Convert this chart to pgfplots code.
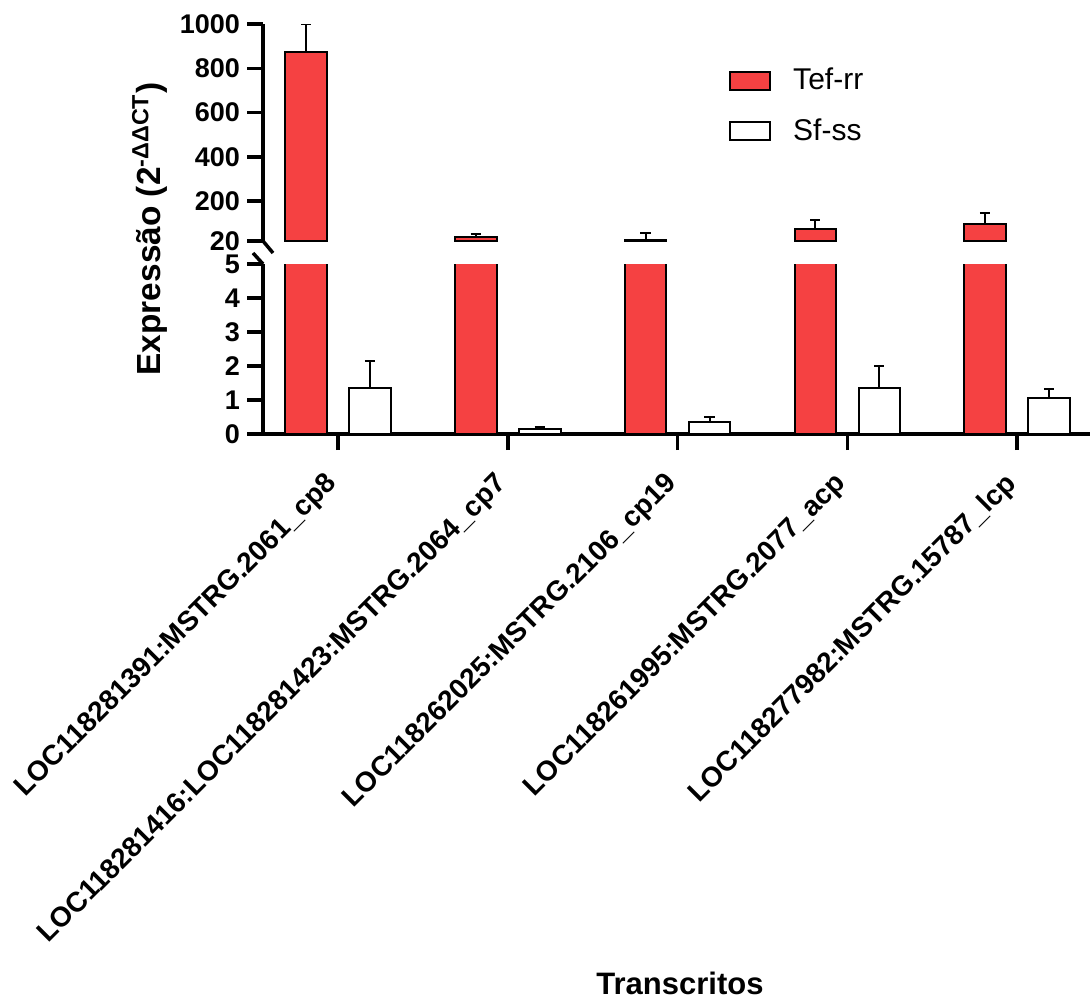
\documentclass[border=0pt]{standalone}
\usepackage{pgfplots}
\pgfplotsset{compat=1.18}
\usepackage{pgfplotstable}
\usepackage{fontspec}
\setmainfont{Liberation Sans}
\definecolor{tefred}{RGB}{245,65,66}

\pgfplotstableread{
x tef tefe sf sfe
0 873 127 1.35 0.80
1 38 13 0.15 0.06
2 24.5 31.5 0.35 0.15
3 74 41 1.35 0.65
4 97 49.5 1.06 0.26
}\data

\pgfplotsset{
  common/.style={
    scale only axis, width=413.5pt, anchor=south west,
    xmin=-0.442, xmax=4.43,
    axis line style={-, line width=1.75pt, black},
    tick style={line width=1.75pt, black},
    major tick length=8pt, tick align=outside,
    /pgf/number format/assume math mode=true,
    /pgf/number format/1000 sep={},
    yticklabel style={font=\fontsize{13.5}{16}\selectfont\bfseries},
  },
  errstyle/.style={error bars/.cd, y dir=plus, y explicit,
    error bar style={line width=1pt, black},
    error mark options={rotate=90, line width=1pt, black, mark size=2.6pt}},
}

\begin{document}
\begin{tikzpicture}
\path[use as bounding box] (0pt,0pt) rectangle (545pt,499pt);

% bottom segment
\begin{axis}[common, name=bot, at={(131.5pt,282pt)}, height=85pt,
  ymin=0, ymax=5, ytick={0,1,2,3,4,5},
  axis x line*=bottom, axis y line*=left, tick pos=left,
  xtick={0,1,2,3,4},
  xticklabels={LOC118281391:MSTRG.2061\_cp8, LOC118281416:LOC118281423:MSTRG.2064\_cp7, LOC118262025:MSTRG.2106\_cp19, LOC118261995:MSTRG.2077\_acp, LOC118277982:MSTRG.15787\_lcp},
  xticklabel style={xshift=-7pt, yshift=-5.5pt, rotate=45, anchor=north east, font=\fontsize{14}{16}\selectfont\bfseries},
]
\addplot[ybar, bar width=20.75pt, bar shift=0pt, fill=tefred, draw=black, line width=1pt,
  y filter/.expression={min(y,6)}] table[x expr=\thisrow{x}-0.1885, y=tef] {\data};
\addplot[ybar, bar width=20.75pt, bar shift=0pt, fill=white, draw=black, line width=1pt,
  errstyle] table[x expr=\thisrow{x}+0.1885, y=sf, y error=sfe] {\data};
\end{axis}

% top segment
\begin{axis}[common, name=top, at={(131.5pt,378.5pt)}, height=108.5pt,
  ymin=20, ymax=1000, ytick={20,200,400,600,800,1000},
  axis x line=none, axis y line*=left, tick pos=left, xtick=\empty,
  legend style={at={(0.556,0.835)}, anchor=north west, draw=none, fill=none,
    font=\fontsize{15}{18}\selectfont, row sep=9pt,
    /tikz/every odd column/.append style={column sep=9pt}},
  legend cell align=left,
]
\addplot[forget plot, ybar, bar width=20.75pt, bar shift=0pt, fill=tefred, draw=black, line width=1pt,
  errstyle] table[x expr=\thisrow{x}-0.1885, y=tef, y error=tefe] {\data};
\addlegendimage{legend image code/.code={\draw[fill=tefred, draw=black, line width=1pt] (0pt,-4.5pt) rectangle (20pt,4.5pt);}}
\addlegendentry{Tef-rr}
\addlegendimage{legend image code/.code={\draw[fill=white, draw=black, line width=1pt] (0pt,-4.5pt) rectangle (20pt,4.5pt);}}
\addlegendentry{Sf-ss}
\end{axis}

% axis break marks
\draw[line width=1.75pt] (top.south west) -- ++(5pt,-6pt);
\draw[line width=1.75pt] (bot.north west) ++(-5pt,5.5pt) -- (bot.north west);

\node[rotate=90, font=\fontsize{16.7}{20}\selectfont\bfseries] at (75pt,384.5pt) {Expressão (2\textsuperscript{-ΔΔCT})};
\node[anchor=base, inner sep=0pt, font=\fontsize{15.5}{18}\selectfont\bfseries] at (340pt,2pt) {Transcritos};
\end{tikzpicture}
\end{document}
